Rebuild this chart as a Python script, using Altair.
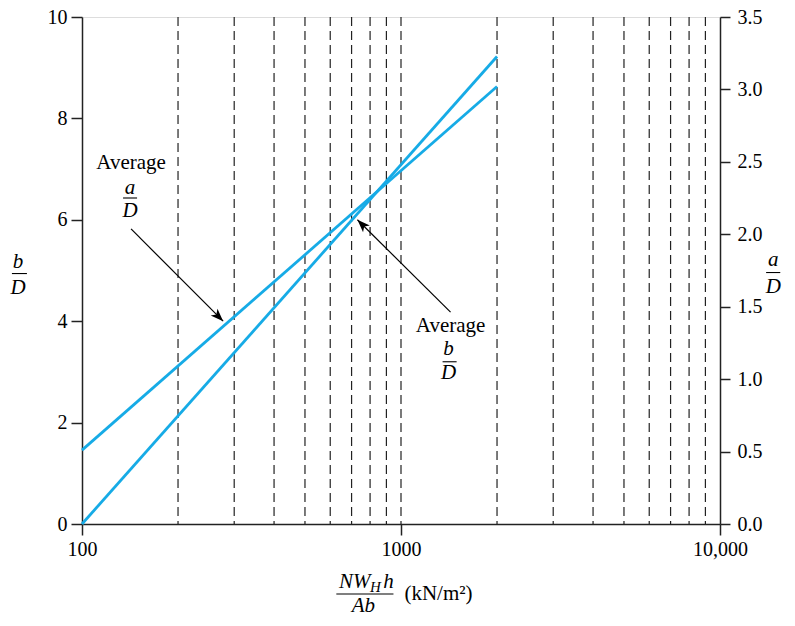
import altair as alt
import pandas as pd

# ---- data ----
x_pts = [100, 2000]                 # NW_H h / Ab (kN/m^2)
b_over_D = [0.0, 9.22]              # Average b/D (left axis)
a_over_D = [0.51, 3.02]             # Average a/D (right axis)
dash_x = [200, 300, 400, 500, 600, 700, 800, 900, 1000,
          2000, 3000, 4000, 5000, 6000, 7000, 8000, 9000]
x_ticks = [100, 1000, 10000]
left_ticks = [0, 2, 4, 6, 8, 10]
right_ticks = [0.0, 0.5, 1.0, 1.5, 2.0, 2.5, 3.0, 3.5]

# annotations (data coordinates: x on log scale, y in b/D units)
plain_x = [142.5, 1430, 1311]
plain_y = [7.12, 3.90, -1.38]
plain_t = ["Average", "Average", "(kN/m²)"]

ital_x = [141.5, 141.5, 1410, 1410, 63.0, 63.0, 14700, 14700, 762, 914]
ital_y = [6.63, 6.18, 3.45, 2.98, 5.16, 4.65, 5.20, 4.67, -1.62, -1.14]
ital_t = ["a", "D", "b", "D", "b", "D", "a", "D", "Ab", "h"]

nw_x = [802]
nw_y = [-1.14]
nw_t = ["NW"]
sub_x = [832]
sub_y = [-1.25]
sub_t = ["H"]

bar_x1 = [134.5, 1350, 60.3, 13950, 627]
bar_x2 = [148.8, 1494, 67.2, 15450, 947]
bar_y = [6.43, 3.20, 4.94, 4.96, -1.38]

arrow_tail_x = [142.5, 1430]
arrow_tail_y = [5.82, 4.18]
arrow_tip_x = [277, 730]
arrow_tip_y = [4.00, 6.00]
arrow_angle = [135, 315]

FONT = "Liberation Serif"
BLUE = "#16abe6"
INK = "#222222"

xscale = alt.Scale(type="log", domain=[100, 10000], nice=False)
yL = alt.Scale(domain=[0, 10], nice=False, zero=False)
yR = alt.Scale(domain=[0, 3.5], nice=False, zero=False)

common = dict(title=None, grid=False, labelFont=FONT, labelFontSize=20, labelColor="black",
              domainColor=INK, tickColor=INK, domainWidth=1.5, tickWidth=1.5,
              labelFlush=False, labelOverlap=False)
x_axis = alt.Axis(values=x_ticks, tickSize=11, orient="bottom", labelPadding=4,
                  labelExpr="datum.value >= 10000 ? format(datum.value, ',') : format(datum.value, 'd')",
                  **common)
yL_axis = alt.Axis(values=left_ticks, tickSize=11, orient="left", labelPadding=4, **common)
yR_axis = alt.Axis(values=right_ticks, tickSize=10, orient="right", format=".1f",
                   labelPadding=7, **common)

series_b = pd.DataFrame({"x": x_pts, "y": b_over_D})
series_a = pd.DataFrame({"x": x_pts, "y": a_over_D})
dash_df = pd.DataFrame({"x": dash_x})
plain_df = pd.DataFrame({"x": plain_x, "y": plain_y, "t": plain_t})
ital_df = pd.DataFrame({"x": ital_x, "y": ital_y, "t": ital_t})
nw_df = pd.DataFrame({"x": nw_x, "y": nw_y, "t": nw_t})
sub_df = pd.DataFrame({"x": sub_x, "y": sub_y, "t": sub_t})
bar_df = pd.DataFrame({"x": bar_x1, "x2": bar_x2, "y": bar_y})
arrow_df = pd.DataFrame({"x": arrow_tail_x, "y": arrow_tail_y,
                         "x2": arrow_tip_x, "y2": arrow_tip_y, "ang": arrow_angle})


def X(field="x:Q", axis=None):
    return alt.X(field, scale=xscale, axis=axis)


def Y(field="y:Q", scale=yL, axis=None):
    return alt.Y(field, scale=scale, axis=axis)


dashes = alt.Chart(dash_df).mark_rule(stroke=INK, strokeWidth=1.2, strokeDash=[9, 5]).encode(
    x=X(axis=x_axis))

line_b = alt.Chart(series_b).mark_line(color=BLUE, strokeWidth=2.8, clip=False).encode(
    x=X(), y=Y(axis=yL_axis))

line_a = alt.Chart(series_a).mark_line(color=BLUE, strokeWidth=2.8, clip=False).encode(
    x=X(), y=Y(scale=yR, axis=yR_axis))

plain = alt.Chart(plain_df).mark_text(font=FONT, fontSize=21, color="black").encode(
    x=X(), y=Y(), text="t:N")
ital = alt.Chart(ital_df).mark_text(font=FONT, fontSize=21, fontStyle="italic", color="black").encode(
    x=X(), y=Y(), text="t:N")
nw = alt.Chart(nw_df).mark_text(font=FONT, fontSize=21, fontStyle="italic", color="black",
                                align="right").encode(x=X(), y=Y(), text="t:N")
sub = alt.Chart(sub_df).mark_text(font=FONT, fontSize=15, fontStyle="italic", color="black").encode(
    x=X(), y=Y(), text="t:N")
bars = alt.Chart(bar_df).mark_rule(color="black", strokeWidth=1.1).encode(
    x=X(), x2="x2:Q", y=Y())

arrow_lines = alt.Chart(arrow_df).mark_rule(color="black", strokeWidth=1.2).encode(
    x=X(), y=Y(), x2="x2:Q", y2="y2:Q")
arrow_heads = alt.Chart(arrow_df).mark_point(
    shape="M0,0L-0.6,1.6L0,1.2L0.6,1.6Z", size=256, filled=True, color="black", opacity=1
).encode(
    x=X("x2:Q"), y=Y("y2:Q"),
    angle=alt.Angle("ang:Q", scale=None))

chart = alt.layer(dashes, line_b, line_a, bars, plain, ital, nw, sub, arrow_lines, arrow_heads
                  ).resolve_scale(x="independent", y="independent").properties(
    width=638, height=507,
    autosize=alt.AutoSizeParams(type="none"),
    padding={"left": 74, "top": 9, "right": 66, "bottom": 94},
).configure_view(stroke=None).configure(background="white")

chart.save("out.html", embed_options={"renderer": "svg", "actions": False})
